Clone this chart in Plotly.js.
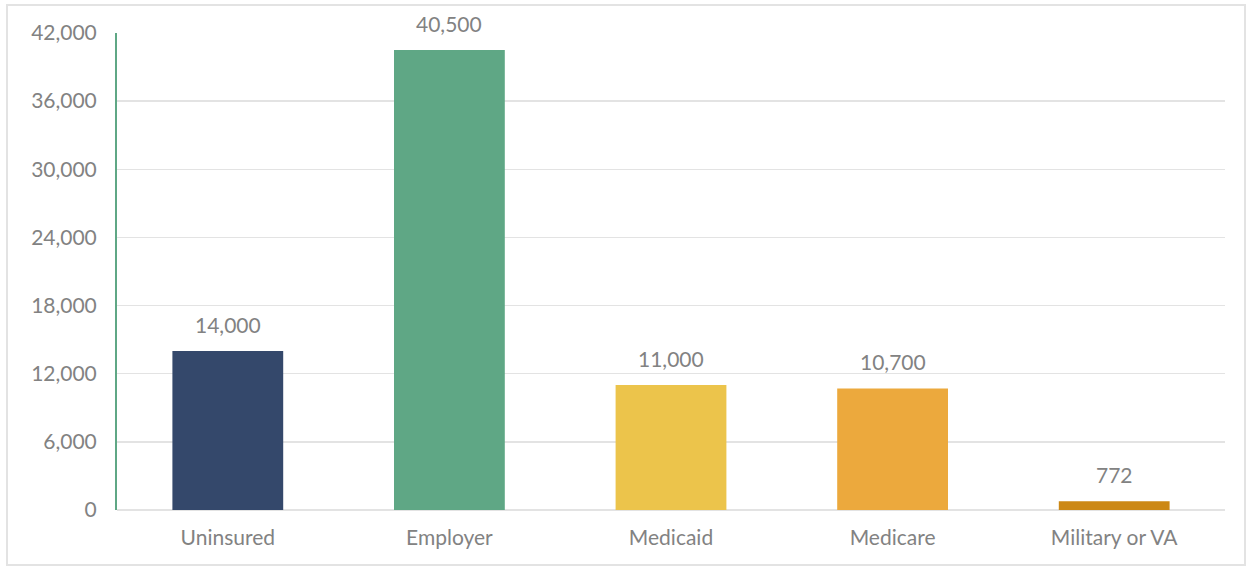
<!DOCTYPE html>
<html>
<head>
<meta charset="utf-8">
<script src="https://cdn.plot.ly/plotly-3.0.1.min.js"></script>
<style>
  html, body { margin: 0; padding: 0; background: #fff; }
  #wrap { position: relative; width: 1252px; height: 567px; overflow: hidden; }
  #chart { width: 1252px; height: 567px; }
  #frame { position: absolute; left: 6px; top: 4px; width: 1236px; height: 558px;
           border: 2px solid #e3e3e3; pointer-events: none; box-sizing: content-box; }
</style>
</head>
<body>
<div id="wrap">
  <div id="chart"></div>
  <div id="frame"></div>
</div>
<script>
const categories = ["Uninsured", "Employer", "Medicaid", "Medicare", "Military or VA"];
const values = [14000, 40500, 11000, 10700, 772];
const valueLabels = ["14,000", "40,500", "11,000", "10,700", "772"];
const barColors = ["#34486b", "#5fa785", "#ecc44b", "#eca93d", "#cc8815"];
const yTicks = [0, 6000, 12000, 18000, 24000, 30000, 36000, 42000];

const font = "Lato, 'Open Sans', sans-serif";
const textColor = "#828282";

const trace = {
  type: "bar",
  x: categories,
  y: values,
  marker: { color: barColors },
  hoverinfo: "none"
};

const annotations = categories.map((c, i) => ({
  x: c, y: values[i], xref: "x", yref: "y",
  text: valueLabels[i], showarrow: false,
  yanchor: "bottom", yshift: 12,
  font: { family: font, size: 21, color: textColor }
}));

const layout = {
  width: 1252, height: 567,
  margin: { l: 117, r: 27, t: 33, b: 57 },
  paper_bgcolor: "#fff", plot_bgcolor: "#fff",
  bargap: 0.5,
  showlegend: false,
  font: { family: font, size: 21, color: textColor },
  xaxis: {
    showgrid: false, zeroline: false, showline: false,
    ticks: "", ticklabelstandoff: 13,
    tickfont: { family: font, size: 21, color: textColor }
  },
  yaxis: {
    range: [0, 42000], tickvals: yTicks,
    ticktext: yTicks.map(v => v.toLocaleString("en-US")),
    showgrid: true, gridcolor: "#e3e3e3", gridwidth: 1.5,
    zeroline: true, zerolinecolor: "#e3e3e3", zerolinewidth: 1.5,
    showline: true, linecolor: "#5fa785", linewidth: 2,
    ticks: "", ticklabelstandoff: 14,
    tickfont: { family: font, size: 21, color: textColor }
  },
  annotations: annotations
};

Plotly.newPlot("chart", [trace], layout, { displayModeBar: false, staticPlot: true });
</script>
</body>
</html>
